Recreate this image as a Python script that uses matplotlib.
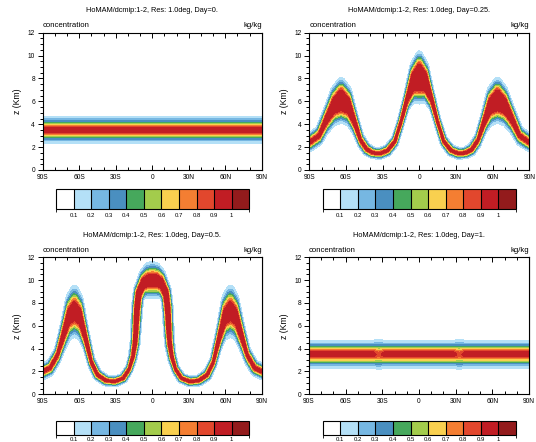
"""Four-panel tracer cross sections (HoMAM, DCMIP 1-2) with NCL-style colour bars."""

import matplotlib

matplotlib.use("Agg")
import matplotlib.pyplot as plt
import numpy as np
from matplotlib.cm import ScalarMappable
from matplotlib.colors import BoundaryNorm, ListedColormap
from matplotlib.ticker import FixedLocator, MultipleLocator

W, H = 536, 442

LEVELS = [0.1, 0.2, 0.3, 0.4, 0.5, 0.6, 0.7, 0.8, 0.9, 1.0]
LEVEL_LABELS = ["0.1", "0.2", "0.3", "0.4", "0.5", "0.6", "0.7", "0.8", "0.9", "1"]
COLORS = ["#ffffff", "#b4e0f7", "#76b7e2", "#4a8fc0", "#46a85c", "#a3cc4c",
          "#f9d04f", "#f47e32", "#e2472d", "#c11d24", "#931b1c"]
LAT_TICKS = [-90, -60, -30, 0, 30, 60, 90]
LAT_LABELS = ["90S", "60S", "30S", "0", "30N", "60N", "90N"]
DAY_LABELS = ["0.", "0.25.", "0.5.", "1."]

# tracer value across the band vs. normalised distance from its centre line
PROFILE_R = [0.0, 0.15, 0.21, 0.27, 0.34, 0.40, 0.46, 0.55, 0.64, 0.80, 1.0]
PROFILE_Q = [1.0, 0.9, 0.8, 0.7, 0.6, 0.5, 0.4, 0.3, 0.2, 0.1, 0.0]

# band centre line (lat, km), half widths (deg, km), flat core and peak value per panel
DAY0_LAT = [-90, 90]
DAY0_Z = [3.5, 3.5]
DAY0_WX = [8, 8]
DAY0_WZ = [1.5, 1.5]
DAY0_CORE = [0.0, 0.0]
DAY0_PEAK = [1.0, 1.0]

D025_LAT = [-90, -82, -76, -70, -64, -58, -53, -48, -43, -38,
            -32, -26, -20, -15, -10, -5, 0, 5, 10, 15,
            20, 26, 32, 38, 43, 48, 53, 58, 64, 70,
            76, 82, 90]
D025_Z = [2.4, 3.0, 4.4, 5.6, 6.1, 5.6, 4.2, 2.6, 1.8, 1.5,
          1.45, 1.7, 2.5, 4.2, 6.2, 7.7, 8.1, 7.7, 6.2, 4.2,
          2.5, 1.7, 1.45, 1.5, 1.8, 2.6, 4.2, 5.6, 6.1, 5.6,
          4.4, 3.0, 2.4]
D025_WX = [6, 5, 4, 5, 8, 5, 4, 4, 5, 6,
           6, 5, 4, 3.5, 3.5, 5, 7, 5, 3.5, 3.5,
           4, 5, 6, 6, 5, 4, 4, 5, 8, 5,
           4, 5, 6]
D025_WZ = [1.0, 1.1, 1.6, 2.1, 2.33, 2.1, 1.4, 0.9, 0.7, 0.65,
           0.65, 0.65, 0.7, 0.9, 1.3, 2.2, 2.69, 2.2, 1.3, 0.9,
           0.7, 0.65, 0.65, 0.65, 0.7, 0.9, 1.4, 2.1, 2.33, 2.1,
           1.6, 1.1, 1.0]
D025_CORE = [0, 0, 0.1, 0.2, 0.28, 0.2, 0.1, 0, 0, 0,
             0, 0, 0, 0, 0.1, 0.25, 0.34, 0.25, 0.1, 0,
             0, 0, 0, 0, 0, 0, 0.1, 0.2, 0.28, 0.2,
             0.1, 0, 0]
D025_PEAK = [1.0] * 33

D05_LAT = [-90, -84, -78, -73, -68.5, -64, -59.5, -55, -50, -45,
           -38, -31, -24, -19, -16, -14.2, -13.3, -12.6, -11.2, -7.5,
           -4, 0, 4, 7.5, 11.2, 12.6, 13.3, 14.2, 16, 19,
           24, 31, 38, 45, 50, 55, 59.5, 64, 68.5, 73,
           78, 84, 90]
D05_Z = [2.0, 2.3, 3.4, 5.2, 6.8, 7.3, 6.8, 5.0, 2.8, 1.7,
         1.2, 1.12, 1.4, 2.2, 3.3, 4.5, 6.0, 7.5, 8.8, 9.7,
         9.95, 10.0, 9.95, 9.7, 8.8, 7.5, 6.0, 4.5, 3.3, 2.2,
         1.4, 1.12, 1.2, 1.7, 2.8, 5.0, 6.8, 7.3, 6.8, 5.2,
         3.4, 2.3, 2.0]
D05_WX = [6, 5, 4, 4, 5, 8, 5, 4, 4, 5,
          6, 6, 5, 4, 4.5, 5, 5.3, 5.5, 5.5, 5.5,
          5.5, 6, 5.5, 5.5, 5.5, 5.5, 5.3, 5, 4.5, 4,
          5, 6, 6, 5, 4, 4, 5, 8, 5, 4,
          4, 5, 6]
D05_WZ = [0.9, 0.9, 1.1, 1.8, 2.5, 2.72, 2.5, 1.5, 0.8, 0.65,
          0.6, 0.6, 0.55, 0.6, 0.8, 1.0, 1.0, 1.0, 1.2, 1.6,
          1.9, 2.0, 1.9, 1.6, 1.2, 1.0, 1.0, 1.0, 0.8, 0.6,
          0.55, 0.6, 0.6, 0.65, 0.8, 1.5, 2.5, 2.72, 2.5, 1.8,
          1.1, 0.9, 0.9]
D05_CORE = [0, 0, 0, 0.1, 0.15, 0.18, 0.15, 0.1, 0, 0,
            0, 0, 0, 0, 0.05, 0.12, 0.16, 0.2, 0.2, 0.15,
            0.13, 0.13, 0.13, 0.15, 0.2, 0.2, 0.16, 0.12, 0.05, 0,
            0, 0, 0, 0, 0, 0.1, 0.15, 0.18, 0.15, 0.1,
            0, 0, 0]
D05_PEAK = [1.0] * 43

DAY1_LAT = [-90, -38, -33, -28, 28, 33, 38, 90]
DAY1_Z = [3.5, 3.5, 3.5, 3.5, 3.5, 3.5, 3.5, 3.5]
DAY1_WX = [8, 8, 8, 8, 8, 8, 8, 8]
DAY1_WZ = [1.5, 1.5, 1.72, 1.5, 1.5, 1.72, 1.5, 1.5]
DAY1_CORE = [0, 0, 0, 0, 0, 0, 0, 0]
DAY1_PEAK = [1.0, 1.0, 0.84, 1.0, 1.0, 0.84, 1.0, 1.0]


def px_rect(x0, y0, x1, y1):
    """Figure-fraction rectangle from pixel corners (top-left origin)."""
    return [x0 / W, 1 - y1 / H, (x1 - x0) / W, (y1 - y0) / H]


def band_field(nodes, lat2d, z2d):
    lat_n, z_n, wx_n, wz_n, core_n, peak_n = (np.asarray(v, float) for v in nodes)
    step = np.hypot(np.diff(lat_n) / 9.4, np.diff(z_n))
    s = np.concatenate([[0.0], np.cumsum(step)])
    t = np.linspace(0, s[-1], 900)
    q = np.zeros_like(lat2d)
    dense = [np.interp(t, s, v) for v in (lat_n, z_n, wx_n, wz_n, core_n, peak_n)]
    for la, zz, a, b, c, p in zip(*dense):
        r = np.hypot((lat2d - la) / a, (z2d - zz) / b)
        r = np.clip((r - c) / (1 - c), 0, None)
        np.maximum(q, p * np.interp(r, PROFILE_R, PROFILE_Q, right=0.0), out=q)
    return q


def draw_panel(fig, ax_px, cb_px, title, q, lat, z, cmap, norm, label_pad):
    x0, y0, x1, y1 = ax_px
    ax = fig.add_axes(px_rect(*ax_px))
    ax.contourf(lat, z, q, levels=[0.0] + LEVELS + [1.1], colors=COLORS, antialiased=False)
    ax.set_xlim(-90, 90)
    ax.set_ylim(0, 12)
    ax.xaxis.set_major_locator(FixedLocator(LAT_TICKS))
    ax.set_xticklabels(LAT_LABELS)
    ax.xaxis.set_minor_locator(MultipleLocator(10))
    ax.yaxis.set_major_locator(MultipleLocator(2))
    ax.yaxis.set_minor_locator(MultipleLocator(0.5))
    ax.tick_params(axis="x", which="both", direction="in", top=True, bottom=True,
                   labelsize=4.8, pad=3.0, width=0.7)
    ax.tick_params(axis="y", which="both", direction="out", left=True, right=False,
                   labelsize=4.8, pad=2.0, width=0.7)
    ax.tick_params(which="major", length=3.5)
    ax.tick_params(which="minor", length=2.0)
    right = ax.secondary_yaxis("right")
    right.yaxis.set_major_locator(MultipleLocator(2))
    right.yaxis.set_minor_locator(MultipleLocator(0.5))
    right.tick_params(which="both", direction="in", labelright=False, width=0.7)
    right.tick_params(which="major", length=3.5)
    right.tick_params(which="minor", length=2.0)
    right.spines["right"].set_linewidth(0.8)
    for sp in ax.spines.values():
        sp.set_linewidth(0.8)
    ax.set_ylabel("z (Km)", fontsize=6.2, labelpad=4)
    ax.text(0, 1.04, "concentration", transform=ax.transAxes, ha="left", va="baseline", fontsize=5.6)
    ax.text(1, 1.04, "kg/kg", transform=ax.transAxes, ha="right", va="baseline", fontsize=5.6)
    fig.text((x0 + x1) / 2 / W, 1 - (y0 - 22) / H, title, ha="center", va="center", fontsize=5.3)

    cax = fig.add_axes(px_rect(*cb_px))
    cb = fig.colorbar(ScalarMappable(norm=norm, cmap=cmap), cax=cax, orientation="horizontal",
                      drawedges=True, ticks=LEVELS)
    cb.set_ticklabels(LEVEL_LABELS)
    cb.ax.tick_params(length=0, labelsize=4.3, pad=label_pad)
    cb.outline.set_linewidth(0.8)
    cb.dividers.set_linewidth(0.8)
    return ax


def main():
    plt.rcParams["font.family"] = ["Liberation Sans", "DejaVu Sans"]
    lat = np.arange(-90, 90.01, 0.5)
    z = np.arange(0, 12.001, 0.04)
    lat2d, z2d = np.meshgrid(lat, z)

    panels = [
        (DAY0_LAT, DAY0_Z, DAY0_WX, DAY0_WZ, DAY0_CORE, DAY0_PEAK),
        (D025_LAT, D025_Z, D025_WX, D025_WZ, D025_CORE, D025_PEAK),
        (D05_LAT, D05_Z, D05_WX, D05_WZ, D05_CORE, D05_PEAK),
        (DAY1_LAT, DAY1_Z, DAY1_WX, DAY1_WZ, DAY1_CORE, DAY1_PEAK),
    ]
    fields = [band_field(nodes, lat2d, z2d) for nodes in panels]

    cmap = ListedColormap(COLORS)
    norm = BoundaryNorm([0.0] + LEVELS + [1.1], cmap.N)

    fig = plt.figure(figsize=(W / 100, H / 100), dpi=100)
    fig.patch.set_facecolor("white")
    axes_px = [(42.7, 32.7, 261.7, 170.0), (309.3, 32.7, 529.3, 170.0),
               (42.7, 257.3, 262.0, 394.3), (309.0, 257.3, 529.0, 394.3)]
    cbar_px = [(56.0, 189.3, 249.3, 209.3), (322.7, 189.3, 516.0, 209.3),
               (56.0, 421.0, 249.3, 434.5), (322.7, 421.0, 516.0, 434.5)]
    pads = [3.0, 3.0, 1.5, 1.5]
    for q, day, a_px, c_px, pad in zip(fields, DAY_LABELS, axes_px, cbar_px, pads):
        title = f"HoMAM/dcmip:1-2, Res: 1.0deg, Day={day}"
        draw_panel(fig, a_px, c_px, title, q, lat, z, cmap, norm, pad)

    fig.savefig("out.png", dpi=100, facecolor="white")
    plt.close(fig)


if __name__ == "__main__":
    main()
